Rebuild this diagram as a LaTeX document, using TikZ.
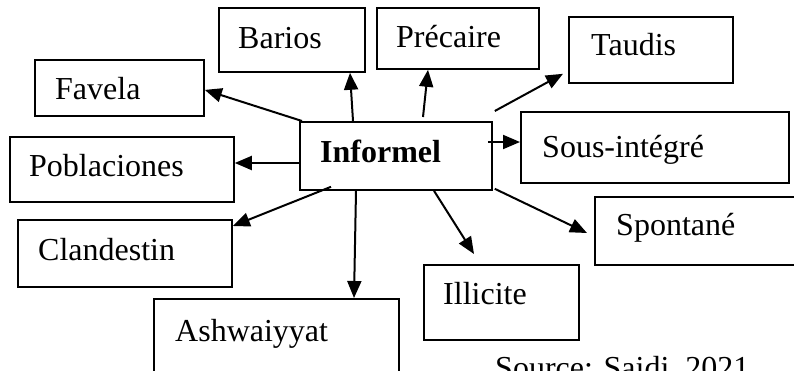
\documentclass[tikz,border=0pt]{standalone}
\usepackage{fontspec}
\setmainfont{Liberation Serif}
\usetikzlibrary{arrows.meta,calc}
\tikzset{
  box/.style={draw, line width=1.8pt, anchor=north west, inner sep=0pt, minimum width=#1},
  lbl/.style={anchor=base west, inner sep=0pt, font=\fontsize{32pt}{38pt}\selectfont},
  arr/.style={line width=2pt, -{Triangle[length=17pt,width=14pt]}}
}
\begin{document}
\begin{tikzpicture}[x=1pt,y=-1pt]
\useasboundingbox (0,0) rectangle (794,370);
% boxes
\node[box=146pt, minimum height=64pt] (bar) at (218,7) {};
\node[box=162pt, minimum height=61pt] (pre) at (376,7) {};
\node[box=164pt, minimum height=66pt] (tau) at (568,16) {};
\node[box=169pt, minimum height=56pt] (fav) at (34,59) {};
\node[box=192pt, minimum height=68pt] (inf) at (299,121) {};
\node[box=268pt, minimum height=71pt] (sou) at (520,111) {};
\node[box=224pt, minimum height=65pt] (pob) at (9,136) {};
\node[box=214pt, minimum height=67pt] (cla) at (17,219) {};
\node[box=210pt, minimum height=68pt] (spo) at (594,196) {};
\node[box=155pt, minimum height=75pt] (ill) at (423,264) {};
\node[box=245pt, minimum height=80pt] (ash) at (153,298) {};
% labels
\node[lbl] (tbar) at (238,48) {Barios};
\node[lbl] (tpre) at (396,47) {Précaire};
\node[lbl] (ttau) at (591,55) {Taudis};
\node[lbl] (tfav) at (55,99) {Favela};
\node[lbl] (tinf) at (320,162) {\bfseries Informel};
\node[lbl] (tsou) at (542,157) {Sous-intégré};
\node[lbl] (tpob) at (29,176) {Poblaciones};
\node[lbl] (tcla) at (38,260) {Clandestin};
\node[lbl] (tspo) at (616,235) {Spontané};
\node[lbl] (till) at (443,304) {Illicite};
\node[lbl] (tash) at (175,341) {Ashwaiyyat};
\node[lbl] (tsrc) at (495,378) {Source: Saidi, 2021};
% arrows
\draw[arr] ($(inf.north west)+(3,0)$) -- ($(fav.east)+(0,2)$);
\draw[arr] ($(inf.north west)+(54,0)$) -- ($(bar.south west)+(132,0)$);
\draw[arr] ($(inf.north west)+(124,-4)$) -- ($(pre.south west)+(52,0)$);
\draw[arr] ($(inf.north east)+(2,-10)$) -- ($(tau.south west)+(-5,-10)$);
\draw[arr] ($(inf.north east)+(-5,21)$) -- ($(sou.north west)+(0,31)$);
\draw[arr] ($(inf.north west)+(0,42)$) -- ($(pob.north east)+(0,27)$);
\draw[arr] ($(inf.south west)+(32,-4)$) -- ($(cla.north east)+(0,7)$);
\draw[arr] ($(inf.south west)+(57,0)$) -- ($(ash.north west)+(201,0)$);
\draw[arr] ($(inf.south west)+(135,0)$) -- ($(ill.north west)+(51,-10)$);
\draw[arr] ($(inf.south east)+(2,-2)$) -- ($(spo.north west)+(-7,37)$);
\end{tikzpicture}
\end{document}
